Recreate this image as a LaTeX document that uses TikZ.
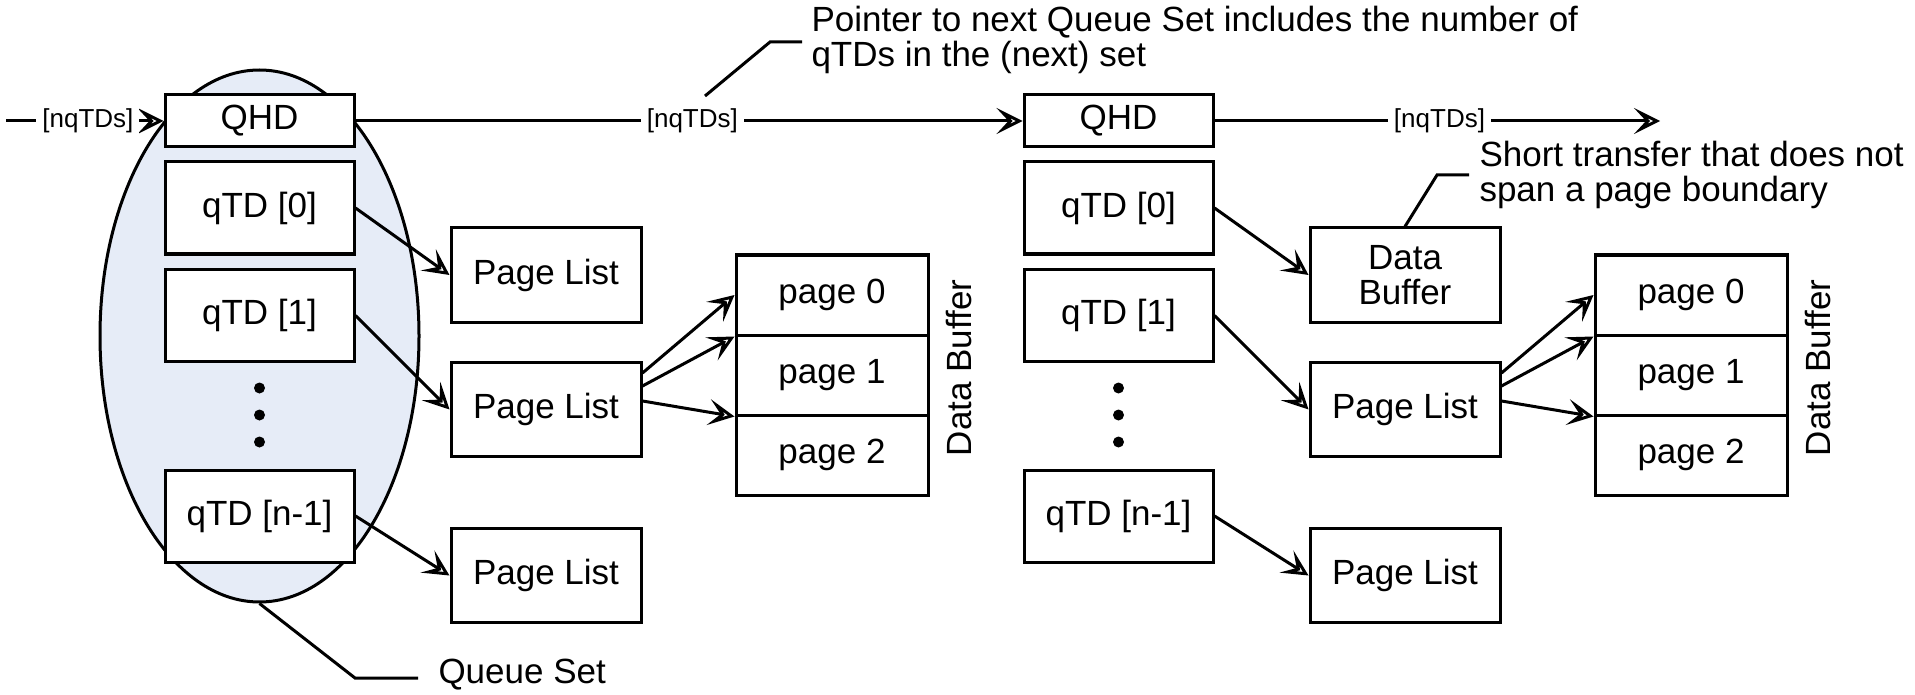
\documentclass[tikz,border=0pt]{standalone}
\usepackage{fontspec}
\setmainfont{Liberation Sans}
\usetikzlibrary{arrows.meta,shapes.geometric}
\definecolor{qsfill}{RGB}{230,236,247}
\begin{document}
\begin{tikzpicture}[x=0.5pt,y=-0.5pt,
  line width=1.5pt,
  txt/.style={font=\fontsize{17.5}{17.5}\selectfont},
  box/.style={draw, fill=white, minimum width=94.5pt, inner sep=0pt, txt, align=center},
  hdr/.style={box, minimum height=26pt},
  td/.style={box, minimum height=46pt},
  pl/.style={box, minimum width=95pt, minimum height=47pt},
  pg/.style={box, minimum width=96pt, minimum height=40pt},
  tip/.style={-{Stealth[open,length=13pt,width=13pt,inset=6pt]}},
  lbl/.style={fill=white, inner xsep=3pt, inner ysep=1pt, font=\fontsize{13}{15}\selectfont},
  note/.style={txt, align=left, anchor=west, inner sep=0pt},
  dot/.style={circle, fill=black, inner sep=0pt, minimum size=5.5pt},
  qset/.style={ellipse, draw, fill=qsfill, inner sep=0pt, minimum width=159.5pt, minimum height=266pt}
]
\useasboundingbox (0,0) rectangle (1915,695);

% ---------- left queue set ----------
\node[qset] (qs) at (259.5,336) {};
\node[hdr] (qhdA) at (259.5,121) {QHD};
\node[td] (tdA0) at (259.5,208) {qTD [0]};
\node[td] (tdA1) at (259.5,315.5) {qTD [1]};
\node[td] (tdAn) at (259.5,516) {qTD [n-1]};
\node[dot] (dA1) at (259.5,388) {};
\node[dot] (dA2) at (259.5,415) {};
\node[dot] (dA3) at (259.5,442) {};

\node[pl] (plA0) at (546,275) {Page List};
\node[pl] (plA1) at (546,409.5) {Page List};
\node[pl] (plAn) at (546,575.5) {Page List};

\node[pg] (pgA0) at (832,295) {page 0};
\node[pg] (pgA1) at (832,375) {page 1};
\node[pg] (pgA2) at (832,455) {page 2};
\node[txt, rotate=90] (dbufA) at (959,368) {Data Buffer};

\draw[tip] (tdA0.east) -- (plA0.west);
\draw[tip] (tdA1.east) -- (plA1.west);
\draw[tip] (tdAn.east) -- (plAn.west);
\draw[tip] ([yshift=-6pt]plA1.north east) -- (pgA0.west);
\draw[tip] ([yshift=-12.5pt]plA1.north east) -- (pgA0.south west);
\draw[tip] ([yshift=-20pt]plA1.north east) -- (pgA1.south west);

% ---------- right queue set ----------
\node[hdr] (qhdB) at (1118.5,121) {QHD};
\node[td] (tdB0) at (1118.5,208) {qTD [0]};
\node[td] (tdB1) at (1118.5,315.5) {qTD [1]};
\node[td] (tdBn) at (1118.5,516) {qTD [n-1]};
\node[dot] (dB1) at (1118.5,388) {};
\node[dot] (dB2) at (1118.5,415) {};
\node[dot] (dB3) at (1118.5,442) {};

\node[pl] (dbB) at (1405,275) {Data\\Buffer};
\node[pl] (plB1) at (1405,409.5) {Page List};
\node[pl] (plBn) at (1405,575.5) {Page List};

\node[pg] (pgB0) at (1691,295) {page 0};
\node[pg] (pgB1) at (1691,375) {page 1};
\node[pg] (pgB2) at (1691,455) {page 2};
\node[txt, rotate=90] (dbufB) at (1818,368) {Data Buffer};

\draw[tip] (tdB0.east) -- (dbB.west);
\draw[tip] (tdB1.east) -- (plB1.west);
\draw[tip] (tdBn.east) -- (plBn.west);
\draw[tip] ([yshift=-6pt]plB1.north east) -- (pgB0.west);
\draw[tip] ([yshift=-12.5pt]plB1.north east) -- (pgB0.south west);
\draw[tip] ([yshift=-20pt]plB1.north east) -- (pgB1.south west);

% ---------- queue head links ----------
\coordinate (inA) at (6,121);
\coordinate (outB) at (1660,121);
\draw[tip] (inA) -- node[lbl, pos=0.52] {[nqTDs]} (qhdA.west);
\draw[tip] (qhdA.east) -- node[lbl, pos=0.505] {[nqTDs]} (qhdB.west);
\draw[tip] (qhdB.east) -- node[lbl, pos=0.505] {[nqTDs]} (outB);

% ---------- callouts ----------
\node[note] (ptr) at (810,40) {Pointer to next Queue Set includes the number of\\qTDs in the (next) set};
\coordinate (ptrA) at (705,96);
\coordinate (ptrK) at (770,42);
\coordinate (ptrE) at (802,42);
\draw (ptrA) -- (ptrK) -- (ptrE);

\node[note] (stx) at (1478,175) {Short transfer that does not\\span a page boundary};
\coordinate (stxK) at (1437,175);
\coordinate (stxE) at (1469,175);
\draw (dbB.north) -- (stxK) -- (stxE);

\node[note] (qsl) at (437,675) {Queue Set};
\coordinate (qsK) at (355,678);
\coordinate (qsE) at (418,678);
\draw (qs.south) -- (qsK) -- (qsE);
\end{tikzpicture}
\end{document}
